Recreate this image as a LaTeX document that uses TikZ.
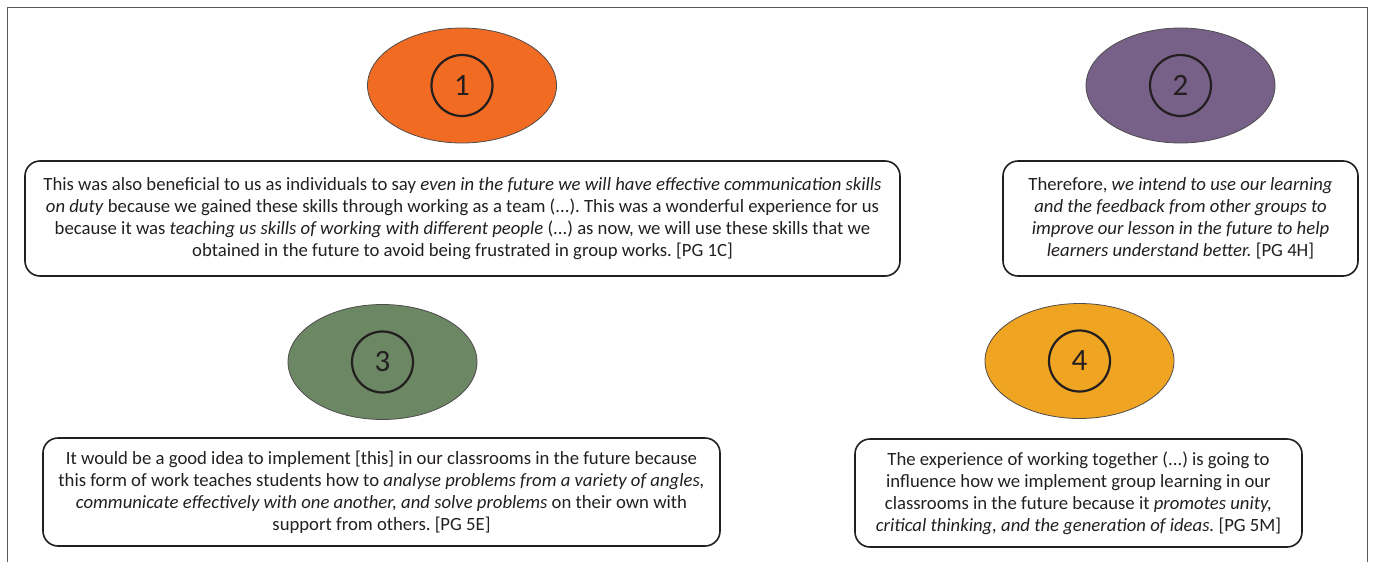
\documentclass[tikz,border=0pt]{standalone}
\usepackage{fontspec}
\setmainfont{Carlito}
\usepackage{tikz}
\usetikzlibrary{shapes.geometric}
\definecolor{ink}{RGB}{35,31,32}
\definecolor{orangeblob}{RGB}{242,107,35}
\definecolor{purpleblob}{RGB}{120,97,137}
\definecolor{greenblob}{RGB}{107,135,99}
\definecolor{goldblob}{RGB}{239,164,34}
\frenchspacing

\begin{document}
\begin{tikzpicture}[x=1pt, y=-1pt,
		blob/.style={ellipse, draw=ink!80, line width=0.8pt, minimum width=189pt, minimum height=115pt},
		num/.style={circle, draw=ink, line width=2.2pt, minimum size=61pt, inner sep=0pt, text=ink, font=\fontsize{31}{33}\selectfont},
		quote/.style={rectangle, draw=ink, line width=1.6pt, rounded corners=15pt, align=center, text=ink, inner sep=0pt, font=\fontsize{18.7}{22}\selectfont}]
		\useasboundingbox (0,0) rectangle (1373,562);
		\draw[ink!75, line width=1pt] (7.5,570) -- (7.5,7.5) -- (1367.5,7.5) -- (1367.5,570);

		\node[blob, fill=orangeblob] (e1) at (462,85.5) {};
		\node[blob, fill=purpleblob] (e2) at (1180.5,85.5) {};
		\node[blob, fill=greenblob] (e3) at (382.5,362) {};
		\node[blob, fill=goldblob] (e4) at (1079.5,361) {};
		\node[num] (n1) at (e1) {1};
		\node[num] (n2) at (e2) {2};
		\node[num] (n3) at (e3) {3};
		\node[num] (n4) at (e4) {4};

		\node[quote, minimum width=875pt, minimum height=115pt] (q1) at (462.5,218.5) {This was also beneficial to us as individuals to say \textit{even in the future we will have effective communication skills}\\
			\textit{on duty} because we gained these skills through working as a team (...). This was a wonderful experience for us\\
			because it was \textit{teaching us skills of working with different people} (...) as now, we will use these skills that we\\
			obtained in the future to avoid being frustrated in group works. [PG 1C]};
		\node[quote, minimum width=355pt, minimum height=115pt] (q2) at (1180.5,218.5) {Therefore, \textit{we intend to use our learning}\\
			\textit{and the feedback from other groups to}\\
			\textit{improve our lesson in the future to help}\\
			\textit{learners understand better.} [PG 4H]};
		\node[quote, minimum width=677pt, minimum height=108pt] (q3) at (381.5,492) {It would be a good idea to implement [this] in our classrooms in the future because\\
			this form of work teaches students how to \textit{analyse problems from a variety of angles,}\\
			\textit{communicate effectively with one another, and solve problems} on their own with\\
			support from others. [PG 5E]};
		\node[quote, minimum width=447pt, minimum height=108pt] (q4) at (1078.5,493) {The experience of working together (...) is going to\\
			influence how we implement group learning in our\\
			classrooms in the future because it \textit{promotes unity,}\\
			\textit{critical thinking, and the generation of ideas.} [PG 5M]};
	\end{tikzpicture}
\end{document}
